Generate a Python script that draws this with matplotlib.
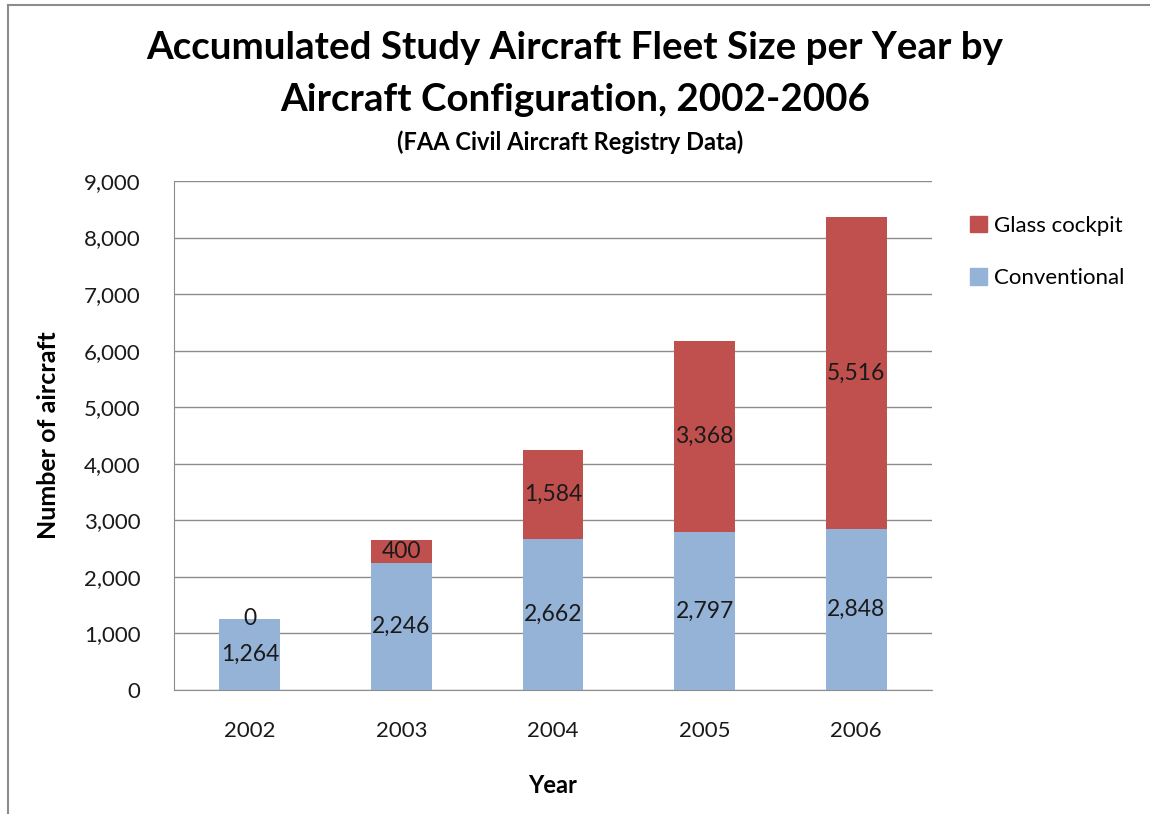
import matplotlib
matplotlib.use("Agg")
import matplotlib.pyplot as plt
from matplotlib.lines import Line2D
from matplotlib.patches import Patch
import numpy as np

years = ["2002", "2003", "2004", "2005", "2006"]
conventional = [1264, 2246, 2662, 2797, 2848]
glass = [0, 400, 1584, 3368, 5516]
series_names = ["Glass cockpit", "Conventional"]
yticks = [0, 1000, 2000, 3000, 4000, 5000, 6000, 7000, 8000, 9000]

FONT = ["Lato", "DejaVu Sans"]
plt.rcParams['font.family'] = FONT

W, H = 1150, 814
fig = plt.figure(figsize=(W / 100, H / 100), dpi=100)
fig.patch.set_facecolor("white")

ax = fig.add_axes([174 / W, 1 - 690 / H, (932 - 174) / W, (690 - 181) / H])

blue = "#95b3d7"
red = "#c0504d"
x = np.arange(len(years))
b1 = ax.bar(x, conventional, width=0.4, color=blue, zorder=3)
b2 = ax.bar(x, glass, width=0.4, bottom=conventional, color=red, zorder=3)

ax.bar_label(b1, labels=[f"{v:,}" for v in conventional], label_type="center", fontsize=16.5, color="#1a1a1a")
ax.bar_label(b2, labels=[f"{v:,}" for v in glass], label_type="center", fontsize=16.5, color="#1a1a1a")

ax.set_xlim(-0.5, len(years) - 0.5)
ax.set_ylim(0, 9000)
ax.set_yticks(yticks)
ax.set_yticklabels([f"{v:,}" for v in yticks], fontsize=16, color="#1a1a1a")
ax.set_xticks(x)
ax.set_xticklabels(years, fontsize=16, color="#1a1a1a")
ax.tick_params(axis="x", length=0, pad=22)
ax.tick_params(axis="y", length=0, pad=24)
ax.yaxis.grid(True, color="#8c8c8c", linewidth=1, zorder=0)
for s in ["top", "right"]:
    ax.spines[s].set_visible(False)
ax.spines["left"].set_color("#8c8c8c")
ax.spines["bottom"].set_color("#8c8c8c")

ax.set_ylabel("Number of aircraft", fontsize=18, fontweight="bold", labelpad=17)
ax.set_xlabel("Year", fontsize=17, fontweight="bold", labelpad=24)

fig.text(575 / W, 1 - 48 / H, "Accumulated Study Aircraft Fleet Size per Year by",
         ha="center", va="center", fontsize=27.7, fontweight="bold")
fig.text(575 / W, 1 - 100 / H, "Aircraft Configuration, 2002-2006",
         ha="center", va="center", fontsize=27.7, fontweight="bold")
fig.text(570 / W, 1 - 142 / H, "(FAA Civil Aircraft Registry Data)",
         ha="center", va="center", fontsize=17, fontweight="bold")

handles = [Patch(color=red), Patch(color=blue)]
leg = fig.legend(handles, series_names, loc="upper left",
                 bbox_to_anchor=(950 / W, 1 - 196 / H), frameon=False,
                 fontsize=16, handlelength=0.75, handleheight=0.75,
                 handletextpad=0.35, labelspacing=1.45)

fig.add_artist(Line2D([8 / W, 8 / W], [0, 1 - 5 / H], color="#8c8c8c", linewidth=1.5))
fig.add_artist(Line2D([8 / W, 1], [1 - 5 / H, 1 - 5 / H], color="#8c8c8c", linewidth=1.5))

fig.savefig("out.png", dpi=100, facecolor="white")
